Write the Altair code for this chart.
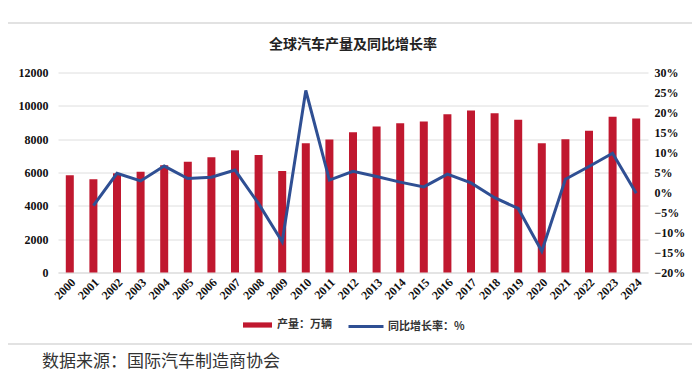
import altair as alt
import pandas as pd

years = [str(y) for y in range(2000, 2025)]
production = [5830, 5590, 5950, 6050, 6430, 6650, 6910, 7330, 7050, 6090,
              7760, 7980, 8420, 8760, 8960, 9060, 9500, 9720, 9560, 9160,
              7760, 8000, 8500, 9340, 9240]
growth_pct = [None, -3.3, 4.8, 2.9, 6.6, 3.5, 3.8, 5.6, -2.8, -12.3,
              25.5, 3.1, 5.3, 4.0, 2.6, 1.4, 4.6, 2.4, -1.3, -4.0,
              -14.7, 3.3, 6.5, 9.8, -0.2]

bar_name = "产量：万辆"
line_name = "同比增长率：%"
title_text = "全球汽车产量及同比增长率"
source_text = "数据来源：国际汽车制造商协会"

RED = "#C0182F"
BLUE = "#2F4F93"
SERIF = "Liberation Serif"
CJK = "Noto Sans CJK SC"

df_bar = pd.DataFrame({"year": years, "value": production, "series": bar_name})
df_line = pd.DataFrame({
    "year": years,
    "growth": [None if g is None else g / 100 for g in growth_pct],
    "series": line_name,
}).dropna()

x_enc = alt.X("year:N", sort=years, title=None,
              scale=alt.Scale(paddingInner=0, paddingOuter=0),
              axis=alt.Axis(labelAngle=-45, labelAlign="right", labelBaseline="top",
                            labelFont=SERIF, labelFontWeight="bold", labelFontSize=12,
                            labelColor="#111", labelPadding=4, ticks=False,
                            domain=True, domainColor="#d9d9d9", labelOverlap=False))

one = pd.DataFrame({"k": [0]})

box = alt.Chart(one).mark_rect(
    fill="transparent", stroke="#e2e2e2", strokeWidth=2
).encode(x=alt.value(-53), x2=alt.value(635), y=alt.value(-49.5), y2=alt.value(271.5))

bars = alt.Chart(df_bar).mark_bar(size=8).encode(
    x=x_enc,
    y=alt.Y("value:Q", title=None,
            scale=alt.Scale(domain=[0, 12000], nice=False),
            axis=alt.Axis(values=[0, 2000, 4000, 6000, 8000, 10000, 12000], format="d",
                          labelFont=SERIF, labelFontWeight="bold", labelFontSize=12,
                          labelColor="#111", labelPadding=10, ticks=False, domain=False,
                          grid=True, gridColor="#dedede")),
    color=alt.Color("series:N", scale=alt.Scale(domain=[bar_name], range=[RED]),
                    legend=alt.Legend(title=None, orient="none", legendX=185, legendY=238,
                                      symbolType="M-1,-0.18H1V0.18H-1Z", symbolSize=841,
                                      symbolStrokeWidth=0, labelFont=CJK, labelFontSize=11,
                                      labelFontWeight="bold", labelColor="#333",
                                      labelOffset=5, padding=0)),
)

line = alt.Chart(df_line).mark_line(strokeWidth=3).encode(
    x=alt.X("year:N", sort=years),
    y=alt.Y("growth:Q", title=None,
            scale=alt.Scale(domain=[-0.2, 0.3], nice=False),
            axis=alt.Axis(orient="right", values=[-0.2, -0.15, -0.1, -0.05, 0, 0.05, 0.1, 0.15, 0.2, 0.25, 0.3],
                          format=".0%", labelFont=SERIF, labelFontWeight="bold", labelFontSize=12,
                          labelColor="#111", labelPadding=6, ticks=False, domain=False, grid=False)),
    stroke=alt.Stroke("series:N", scale=alt.Scale(domain=[line_name], range=[BLUE]),
                      legend=alt.Legend(title=None, orient="none", legendX=289, legendY=235,
                                        symbolType="M-1,0H1", symbolSize=1225,
                                        symbolStrokeWidth=3, labelFont=CJK, labelFontSize=11,
                                        labelFontWeight="bold", labelColor="#333",
                                        labelOffset=3, padding=0)),
)

title = alt.Chart(one).mark_text(
    align="center", baseline="middle", font=CJK, fontSize=14, fontWeight="bold", color="#222"
).encode(x=alt.value(295), y=alt.value(-27.5), text=alt.value(title_text))

footer = alt.Chart(one).mark_text(
    align="left", baseline="middle", font=CJK, fontSize=17, color="#333"
).encode(x=alt.value(-16), y=alt.value(289.5), text=alt.value(source_text))

chart = alt.layer(box, bars, line, title, footer).resolve_scale(y="independent").properties(
    width=590, height=200,
    autosize=alt.AutoSizeParams(type="none"),
    padding={"left": 50, "top": 64.5, "right": 44, "bottom": 100},
    background="white",
).configure_view(stroke=None)

chart.save("out.html", embed_options={"renderer": "svg", "actions": False})
